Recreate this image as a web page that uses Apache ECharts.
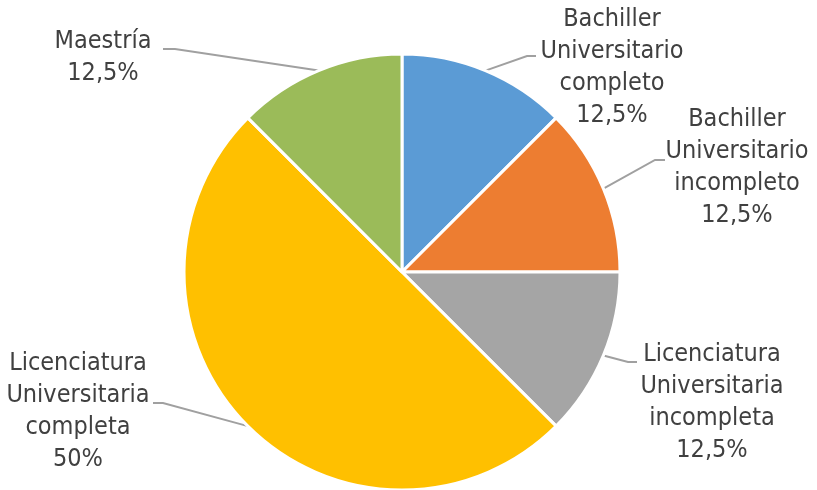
<!DOCTYPE html>
<html>
<head>
<meta charset="utf-8">
<script src="https://cdn.jsdelivr.net/npm/echarts@6/dist/echarts.min.js"></script>
<style>
  html, body { margin: 0; padding: 0; background: #ffffff; }
  #chart { width: 817px; height: 490px; }
</style>
</head>
<body>
<div id="chart"></div>
<script>
// Nivel educativo: porcentaje por categoría
const categories = [
  'Bachiller\nUniversitario\ncompleto',
  'Bachiller\nUniversitario\nincompleto',
  'Licenciatura\nUniversitaria\nincompleta',
  'Licenciatura\nUniversitaria\ncompleta',
  'Maestría'
];
const percentages = [12.5, 12.5, 12.5, 50, 12.5];
const sliceColors = ['#5B9BD5', '#ED7D31', '#A5A5A5', '#FFC000', '#9BBB59'];

// Where each label block sits (centre) and how its leader line bends
const labelPlacement = [
  { x: 612, y: 67,  bend: [527, 56],  end: [536, 56] },
  { x: 737, y: 167, bend: [655, 160], end: [665, 160] },
  { x: 712, y: 402, bend: [628, 362], end: [637, 362] },
  { x: 78,  y: 411, bend: [163, 403], end: [153, 403] },
  { x: 103, y: 57,  bend: [175, 49],  end: [163, 49] }
];

const fontFamily = '"DejaVu Sans Condensed", "DejaVu Sans", sans-serif';

const chart = echarts.init(document.getElementById('chart'), null, { renderer: 'canvas' });

chart.setOption({
  animation: false,
  backgroundColor: '#ffffff',
  series: [{
    type: 'pie',
    center: [402, 272],
    radius: 218,
    startAngle: 90,
    clockwise: true,
    avoidLabelOverlap: false,
    data: categories.map((name, i) => ({
      name: name,
      value: percentages[i],
      itemStyle: { color: sliceColors[i] }
    })),
    itemStyle: { borderColor: '#ffffff', borderWidth: 3 },
    label: {
      show: true,
      position: 'outside',
      color: '#404040',
      fontFamily: fontFamily,
      fontSize: 25,
      lineHeight: 32,
      align: 'center',
      formatter: p => p.name + '\n' + String(p.value).replace('.', ',') + '%'
    },
    labelLine: {
      show: true,
      length: 20,
      length2: 10,
      lineStyle: { color: '#A0A0A0', width: 2 }
    },
    labelLayout: function (params) {
      const place = labelPlacement[params.dataIndex];
      const start = params.labelLinePoints[0];
      return {
        x: place.x,
        y: place.y,
        align: 'center',
        verticalAlign: 'middle',
        labelLinePoints: [start, place.bend, place.end]
      };
    },
    emphasis: { disabled: true }
  }]
});
</script>
</body>
</html>
